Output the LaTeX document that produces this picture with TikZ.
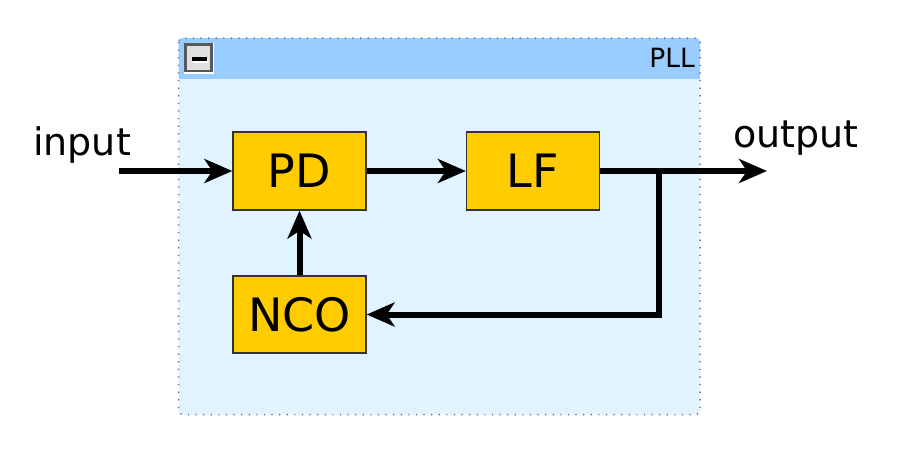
\documentclass[tikz,border=0pt]{standalone}
\usepackage{fontspec}
\setmainfont{DejaVu Sans}
\usetikzlibrary{arrows.meta}
\definecolor{hdr}{HTML}{99CCFF}
\definecolor{body}{HTML}{E1F3FF}
\definecolor{dotc}{HTML}{5F6A9E}
\definecolor{boxfill}{HTML}{FFCC00}
\definecolor{boxline}{HTML}{333333}
\tikzset{
  block/.style={draw=boxline, line width=1.3pt, fill=boxfill, inner sep=0pt,
    minimum width=133pt, minimum height=78pt, font=\fontsize{46}{50}\selectfont},
  arr/.style={line width=6pt, -{Stealth[length=28pt,width=24pt,inset=8pt]}},
  lbl/.style={inner sep=0pt, font=\fontsize{38}{42}\selectfont}
}
\begin{document}
\begin{tikzpicture}[x=1pt,y=-1pt]
\path[use as bounding box] (0,0) rectangle (898,456);
% container
\fill[body, rounded corners=4pt] (178.5,38) rectangle (700,414.5);
\fill[hdr, rounded corners=4pt] (178.5,38) rectangle (700,60);
\fill[hdr] (178.5,50) rectangle (700,79);
\draw[dotc, line width=1.5pt, dash pattern=on 1.2pt off 6.4pt, rounded corners=4pt] (178.5,38) rectangle (700,414.5);
% minus button
\fill[white] (184,43) rectangle (214,74);
\draw[black!65, line width=2.6pt, fill=black!12] (185.5,44.5) rectangle (211.5,71);
\fill[white] (193,58.5) rectangle (208,62.5);
\fill[black] (192,56.5) rectangle (207,60.5);
\node[anchor=base east, inner sep=0pt, font=\fontsize{26.5}{28}\selectfont] (pll) at (695,67) {PLL};
% blocks
\node[block] (pd) at (299.5,171) {PD};
\node[block] (lf) at (533,171) {LF};
\node[block, minimum height=77pt] (nco) at (299.5,314.5) {NCO};
% labels
\node[lbl, anchor=base west] (input) at (33,155) {input};
\node[lbl, anchor=base west] (output) at (733,147) {output};
% connectors
\coordinate (in) at (119,171);
\coordinate (out) at (767,171);
\coordinate (br) at (659,171);
\draw[arr] (in) -- (pd.west);
\draw[arr] (pd.east) -- (lf.west);
\draw[arr] (lf.east) -- (out);
\draw[arr] (br) |- (nco.east);
\draw[arr] (nco.north) -- (pd.south);
\end{tikzpicture}
\end{document}
